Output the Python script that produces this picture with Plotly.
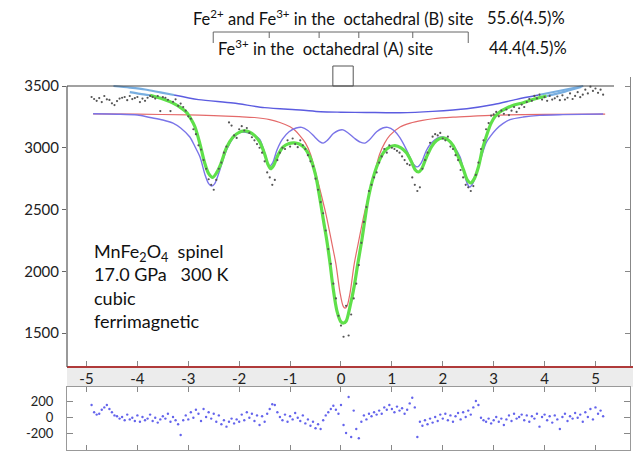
import plotly.graph_objects as go

W, H = 633, 451

# ---------------- data ----------------
velocity = [
    -4.90, -4.85, -4.80, -4.75, -4.70, -4.65, -4.60, -4.55, -4.50, -4.45,
    -4.40, -4.35, -4.30, -4.25, -4.20, -4.15, -4.10, -4.05, -4.00, -3.95,
    -3.90, -3.85, -3.80, -3.75, -3.70, -3.65, -3.60, -3.55, -3.50, -3.45,
    -3.40, -3.35, -3.30, -3.25, -3.20, -3.15, -3.10, -3.05, -3.00, -2.95,
    -2.90, -2.85, -2.80, -2.75, -2.70, -2.65, -2.60, -2.55, -2.50, -2.45,
    -2.40, -2.35, -2.30, -2.25, -2.20, -2.15, -2.10, -2.05, -2.00, -1.95,
    -1.90, -1.85, -1.80, -1.75, -1.70, -1.65, -1.60, -1.55, -1.50, -1.45,
    -1.40, -1.35, -1.30, -1.25, -1.20, -1.15, -1.10, -1.05, -1.00, -0.95,
    -0.90, -0.85, -0.80, -0.75, -0.70, -0.65, -0.60, -0.55, -0.50, -0.45,
    -0.40, -0.35, -0.30, -0.25, -0.20, -0.15, -0.10, -0.05, 0.00, 0.05,
    0.10, 0.15, 0.20, 0.25, 0.30, 0.35, 0.40, 0.45, 0.50, 0.55,
    0.60, 0.65, 0.70, 0.75, 0.80, 0.85, 0.90, 0.95, 1.00, 1.05,
    1.10, 1.15, 1.20, 1.25, 1.30, 1.35, 1.40, 1.45, 1.50, 1.55,
    1.60, 1.65, 1.70, 1.75, 1.80, 1.85, 1.90, 1.95, 2.00, 2.05,
    2.10, 2.15, 2.20, 2.25, 2.30, 2.35, 2.40, 2.45, 2.50, 2.55,
    2.60, 2.65, 2.70, 2.75, 2.80, 2.85, 2.90, 2.95, 3.00, 3.05,
    3.10, 3.15, 3.20, 3.25, 3.30, 3.35, 3.40, 3.45, 3.50, 3.55,
    3.60, 3.65, 3.70, 3.75, 3.80, 3.85, 3.90, 3.95, 4.00, 4.05,
    4.10, 4.15, 4.20, 4.25, 4.30, 4.35, 4.40, 4.45, 4.50, 4.55,
    4.60, 4.65, 4.70, 4.75, 4.80, 4.85, 4.90, 4.95, 5.00, 5.05,
    5.10, 5.15,
]

counts = [
    3411, 3395, 3380, 3402, 3370, 3419, 3392, 3387, 3360, 3346,
    3378, 3398, 3405, 3411, 3385, 3419, 3394, 3402, 3411, 3370,
    3398, 3380, 3405, 3420, 3412, 3398, 3419, 3297, 3410, 3405,
    3388, 3297, 3372, 3392, 3340, 3358, 3330, 3300, 3255, 3235,
    3150, 3110, 3020, 2985, 2900, 2830, 2745, 2700, 2660, 2740,
    2830, 2880, 2960, 3010, 3205, 3180, 3100, 3080, 3150, 3175,
    3140, 3160, 3120, 3085, 3060, 3030, 3000, 2960, 2890, 2800,
    2760, 2700, 2740, 2900, 2960, 3000, 2990, 3060, 3010, 3075,
    3030, 3005, 3060, 3020, 2990, 2940, 2890, 2850, 2750, 2660,
    2560, 2470, 2330, 2180, 2060, 1900, 1780, 1640, 1560, 1470,
    1720, 1480, 1650, 1780, 1900, 2050, 2230, 2400, 2520, 2650,
    2700, 2760, 2800, 2880, 2930, 2990, 2960, 3020, 3000, 2990,
    2975, 2960, 2930, 2900, 2870, 2860, 2760, 2700, 2650, 2680,
    2830, 2900, 2960, 3040, 3090, 3110, 3100, 3120, 3075, 3060,
    3090, 3010, 2990, 2940, 2900, 2820, 2760, 2700, 2680, 2650,
    2690, 2780, 2880, 2990, 3060, 3150, 3200, 3260, 3270, 3290,
    3255, 3300, 3275, 3310, 3265, 3300, 3330, 3290, 3320, 3350,
    3330, 3370, 3395, 3380, 3420, 3400, 3430, 3390, 3410, 3380,
    3420, 3390, 3400, 3415, 3385, 3425, 3390, 3405, 3440, 3395,
    3420, 3450, 3410, 3430, 3470, 3440, 3495, 3460, 3480, 3445,
    3470, 3430,
]

residual = [
    150, 60, 30, 40, 90, 120, 150, 100, 60, 20,
    10, -20, 0, -40, 30, -30, -10, -50, 20, -60,
    0, -40, -20, 30, -50, -10, -70, -30, 10, -20,
    40, -60, 0, -40, -90, -225, -40, 20, -30, 60,
    -10, 90, 40, -50, 100, 0, 60, -20, 40, -60,
    20, -90, -40, -120, -60, -20, -80, -30, -60, 30,
    -40, 60, -10, 40, -50, 20, -100, 10, -60, 40,
    100, 160, 150, 60, 0, -40, 30, -60, 10, -30,
    50, -10, -50, 20, -80, -30, -110, -60, -140, -90,
    -150, -40, 20, 60, 100, 140, 90, 40, 150, -100,
    -200, 250, -250, 80, -150, -265, -60, 20, -30, 40,
    10, 60, 30, 80, 40, 120, 90, 150, 100, 60,
    130, 80, 110, 40, 90, 170, 240, 120, -250, -60,
    -110, -40, -90, -20, -70, 0, -50, 30, -20, 40,
    -40, 20, -60, 10, 50, -30, 60, 0, 80, 30,
    120, 200, 150, -10, -40, -60, -20, -80, -40, 0,
    -60, -20, -100, -30, 20, -50, 40, -20, 0, 30,
    -40, 20, -60, 10, -20, 40, -120, 0, 30, -40,
    10, -70, 20, -30, -150, 0, 40, -50, 10, -20,
    50, -10, 30, -60, 60, 0, 100, -30, 120, 40,
    80, 10,
]

# total fit (green)
fit_v = [-3.75, -3.5, -3.3, -3.15, -3.03, -2.95, -2.87, -2.77, -2.68, -2.6,
         -2.52, -2.44, -2.36, -2.25, -2.12, -2.0, -1.9, -1.8, -1.7, -1.6,
         -1.5, -1.44, -1.38, -1.32, -1.24, -1.14, -1.02, -0.92, -0.82, -0.72,
         -0.61, -0.5, -0.41, -0.34, -0.28, -0.22, -0.16, -0.08, 0.0, 0.05,
         0.1, 0.18, 0.26, 0.33, 0.41, 0.47, 0.53, 0.62, 0.73, 0.85,
         0.95, 1.06, 1.18, 1.29, 1.38, 1.46, 1.52, 1.58, 1.68, 1.78,
         1.88, 2.0, 2.1, 2.2, 2.3, 2.4, 2.48, 2.55, 2.62, 2.7,
         2.78, 2.86, 2.95, 3.03, 3.12, 3.26, 3.4, 3.58, 3.8, 4.04]
fit_c = [3425, 3395, 3362, 3325, 3285, 3235, 3170, 3030, 2880, 2790,
         2760, 2800, 2870, 3000, 3087, 3125, 3136, 3128, 3100, 3050,
         2950, 2870, 2830, 2860, 2940, 3006, 3035, 3040, 3030, 3000,
         2925, 2780, 2577, 2400, 2253, 2080, 1880, 1680, 1590, 1581,
         1595, 1720, 1880, 2060, 2253, 2420, 2577, 2740, 2876, 2970,
         3005, 3018, 3000, 2957, 2890, 2820, 2804, 2825, 2925, 3010,
         3060, 3080, 3065, 3020, 2930, 2830, 2740, 2715, 2750, 2844,
         2990, 3100, 3200, 3255, 3290, 3322, 3346, 3365, 3395, 3419]

# sextet component (blue)
sextet_v = [-4.87, -4.4, -4.0, -3.75, -3.5, -3.3, -3.15, -2.97, -2.87, -2.77,
            -2.67, -2.6, -2.54, -2.48, -2.38, -2.28, -2.18, -2.08, -1.97, -1.87,
            -1.75, -1.6, -1.5, -1.41, -1.34, -1.26, -1.15, -1.02, -0.88, -0.77,
            -0.65, -0.52, -0.42, -0.35, -0.27, -0.15, -0.05, 0.04, 0.14, 0.27,
            0.38, 0.47, 0.56, 0.7, 0.82, 0.92, 1.04, 1.16, 1.29, 1.42,
            1.5, 1.58, 1.68, 1.78, 1.9, 2.0, 2.12, 2.24, 2.34, 2.42,
            2.48, 2.53, 2.6, 2.68, 2.76, 2.85, 2.93, 3.05, 3.18, 3.32,
            3.58, 3.9, 4.36, 5.15]
sextet_c = [3275, 3272, 3265, 3245, 3225, 3200, 3160, 3087, 3010, 2925,
            2780, 2710, 2690, 2710, 2820, 2950, 3040, 3100, 3125, 3125,
            3110, 3070, 2960, 2850, 2880, 2980, 3070, 3130, 3160, 3165,
            3140, 3090, 3050, 3038, 3060, 3115, 3140, 3145, 3120, 3075,
            3045, 3038, 3065, 3130, 3160, 3165, 3140, 3080, 2982, 2870,
            2845, 2880, 2980, 3040, 3080, 3087, 3060, 3000, 2925, 2800,
            2710, 2682, 2720, 2820, 2930, 3040, 3090, 3150, 3195, 3228,
            3249, 3262, 3268, 3273]

# singlet component (red)
singlet_v = [-4.87, -4.0, -3.0, -2.5, -2.0, -1.7, -1.4, -1.2, -1.0, -0.9,
             -0.8, -0.7, -0.6, -0.5, -0.4, -0.3, -0.2, -0.1, -0.02, 0.04,
             0.08, 0.12, 0.18, 0.26, 0.36, 0.46, 0.56, 0.66, 0.76, 0.86,
             0.96, 1.16, 1.36, 1.6, 1.81, 2.2, 2.6, 3.12, 4.0, 5.19]
singlet_c = [3275, 3272, 3266, 3260, 3252, 3245, 3228, 3205, 3170, 3140,
             3095, 3040, 2950, 2800, 2640, 2470, 2270, 2060, 1830, 1720,
             1702, 1720, 1830, 2060, 2270, 2470, 2640, 2800, 2950, 3040,
             3100, 3168, 3200, 3222, 3235, 3248, 3256, 3265, 3270, 3272]

# curved baseline (upper blue)
base_v = [-3.28, -2.8, -2.12, -1.5, -0.8, -0.4, 0.0, 0.5, 1.16, 1.8, 2.47, 3.0, 3.45, 3.88]
base_c = [3427, 3390, 3362, 3325, 3306, 3292, 3288, 3286, 3284, 3295, 3316, 3350, 3392, 3427]

# light-blue continuations at both ends
ext_base_left_v = [-4.47, -4.15, -3.85, -3.55, -3.28]
ext_base_left_c = [3500, 3487, 3472, 3448, 3427]
ext_fit_left_v = [-4.15, -3.95, -3.75]
ext_fit_left_c = [3450, 3436, 3425]
ext_base_right_v = [3.88, 4.3, 4.76]
ext_base_right_c = [3427, 3462, 3500]
ext_fit_right_v = [4.04, 4.4, 4.72]
ext_fit_right_c = [3419, 3455, 3492]

x_ticks = [-5, -4, -3, -2, -1, 0, 1, 2, 3, 4, 5]
x_tick_text = ["-5", "-4", "-3", "-2", "-1", "0", "1", "2", "3", "4", "5"]
y_ticks = [1500, 2000, 2500, 3000, 3500]
res_ticks = [-200, 0, 200]
res_tick_text = ["-200", "0", "200"]

sextet_lines = [-2.51, -1.41, -0.43, 0.35, 1.41, 2.50]
singlet_box = [-0.16, 0.24]

# ---------------- figure ----------------
def px(x):
    return x / W

def py(y):
    return 1 - y / H

fig = go.Figure()

line_kw = dict(shape="spline", smoothing=0.8)

fig.add_trace(go.Scatter(x=singlet_v, y=singlet_c, mode="lines",
                         line=dict(color="#e46a6a", width=1.2, **line_kw), xaxis="x", yaxis="y"))
fig.add_trace(go.Scatter(x=sextet_v, y=sextet_c, mode="lines",
                         line=dict(color="#7a74e8", width=1.4, **line_kw), xaxis="x", yaxis="y"))
fig.add_trace(go.Scatter(x=base_v, y=base_c, mode="lines",
                         line=dict(color="#5c5ce0", width=1.4, **line_kw), xaxis="x", yaxis="y"))
for vv, cc in [(ext_base_left_v, ext_base_left_c), (ext_fit_left_v, ext_fit_left_c),
               (ext_base_right_v, ext_base_right_c), (ext_fit_right_v, ext_fit_right_c)]:
    fig.add_trace(go.Scatter(x=vv, y=cc, mode="lines",
                             line=dict(color="#78aee0", width=2.2, **line_kw), xaxis="x", yaxis="y"))
fig.add_trace(go.Scatter(x=fit_v, y=fit_c, mode="lines",
                         line=dict(color="#5fe04a", width=3.2, **line_kw), xaxis="x", yaxis="y"))
fig.add_trace(go.Scatter(x=velocity, y=counts, mode="markers",
                         marker=dict(color="#555555", size=2.2), xaxis="x", yaxis="y"))
fig.add_trace(go.Scatter(x=velocity, y=residual, mode="markers",
                         marker=dict(color="#6464ec", size=2.4), xaxis="x2", yaxis="y2"))

x_dom = [px(67), px(630)]
x_rng = [-5.383, 5.678]
font_fam = "Lato, 'Open Sans', sans-serif"

shapes = [
    dict(type="rect", xref="paper", yref="paper", x0=px(67), x1=1, y0=py(387), y1=py(368),
         fillcolor="#ececec", line=dict(width=0), layer="below"),
    dict(type="line", xref="paper", yref="paper", x0=px(67), x1=1, y0=py(367), y1=py(367),
         line=dict(color="#b03a3a", width=2)),
    dict(type="line", xref="paper", yref="paper", x0=px(67), x1=px(67), y0=py(367), y1=py(86),
         line=dict(color="#555555", width=1.2)),
    dict(type="line", xref="paper", yref="paper", x0=px(67), x1=px(614), y0=py(86), y1=py(86),
         line=dict(color="#444444", width=1.2)),
    # bracket for the sextet
    dict(type="line", xref="x", yref="paper", x0=sextet_lines[0], x1=sextet_lines[-1],
         y0=py(32), y1=py(32), line=dict(color="#666666", width=1)),
    # singlet box
    dict(type="rect", xref="x", yref="paper", x0=singlet_box[0], x1=singlet_box[1],
         y0=py(86), y1=py(66), line=dict(color="#555555", width=1)),
]
for i, v in enumerate(sextet_lines):
    end = (i == 0 or i == len(sextet_lines) - 1)
    shapes.append(dict(type="line", xref="x", yref="paper", x0=v, x1=v,
                       y0=py(32), y1=py(43 if end else 38),
                       line=dict(color="#666666", width=1)))

ann_font = dict(family=font_fam, size=16.5, color="#111111")
annotations = [
    dict(xref="paper", yref="paper", x=px(191), y=py(18), xanchor="left", yanchor="middle",
         text="Fe<sup>2+</sup> and Fe<sup>3+</sup> in the\u00a0 octahedral (B) site",
         showarrow=False, font=ann_font),
    dict(xref="paper", yref="paper", x=px(485), y=py(18), xanchor="left", yanchor="middle",
         text="55.6(4.5)%", showarrow=False, font=ann_font),
    dict(xref="paper", yref="paper", x=px(216), y=py(48), xanchor="left", yanchor="middle",
         text="Fe<sup>3+</sup> in the\u00a0 octahedral (A) site",
         showarrow=False, font=ann_font),
    dict(xref="paper", yref="paper", x=px(487), y=py(48), xanchor="left", yanchor="middle",
         text="44.4(4.5)%", showarrow=False, font=ann_font),
    dict(xref="paper", yref="paper", x=px(92), y=py(238), xanchor="left", yanchor="top",
         align="left", showarrow=False,
         text="MnFe<sub>2</sub>O<sub>4</sub>\u00a0 spinel<br>17.0 GPa\u00a0\u00a0 300 K<br>cubic<br>ferrimagnetic",
         font=dict(family=font_fam, size=18, color="#111111")),
]

tick_font = dict(family=font_fam, size=15, color="#222222")
res_tick_font = dict(family=font_fam, size=13, color="#222222")

fig.update_layout(
    width=W, height=H,
    margin=dict(l=0, r=0, t=0, b=0),
    paper_bgcolor="white", plot_bgcolor="white",
    showlegend=False,
    shapes=shapes, annotations=annotations,
    xaxis=dict(domain=x_dom, range=x_rng, anchor="y", tickvals=x_ticks, ticktext=x_tick_text,
               ticks="inside", ticklen=6, tickcolor="#888888", showline=False,
               showgrid=False, zeroline=False, tickfont=tick_font, ticklabelstandoff=1),
    yaxis=dict(domain=[py(367), py(77)], range=[1225, 3573], anchor="x", tickvals=y_ticks,
               ticks="outside", ticklen=4, tickcolor="#666666", showline=False,
               showgrid=False, zeroline=False, tickfont=tick_font),
    yaxis3=dict(overlaying="y", side="right", range=[1225, 3573], anchor="x", tickvals=y_ticks,
                ticks="inside", ticklen=5, tickcolor="#888888", showline=True,
                linecolor="#888888", showticklabels=False, showgrid=False, zeroline=False),
    xaxis2=dict(domain=x_dom, range=x_rng, anchor="y2", tickvals=x_ticks,
                ticks="inside", ticklen=5, tickcolor="#888888", showline=True,
                linecolor="#999999", mirror="ticks", showticklabels=False,
                showgrid=False, zeroline=False),
    yaxis2=dict(domain=[py(450), py(387)], range=[-412, 375], anchor="x2", tickvals=res_ticks,
                ticktext=res_tick_text,
                ticks="inside", ticklen=6, tickcolor="#888888", showline=True,
                linecolor="#999999", mirror="ticks", showgrid=False, zeroline=False,
                tickfont=res_tick_font, ticklabelstandoff=10),
)

# invisible trace to activate the right-hand axis
fig.add_trace(go.Scatter(x=[fit_v[0]], y=[fit_c[0]], mode="markers", marker=dict(opacity=0),
                         xaxis="x", yaxis="y3", hoverinfo="skip"))

fig.write_html("out.html")
